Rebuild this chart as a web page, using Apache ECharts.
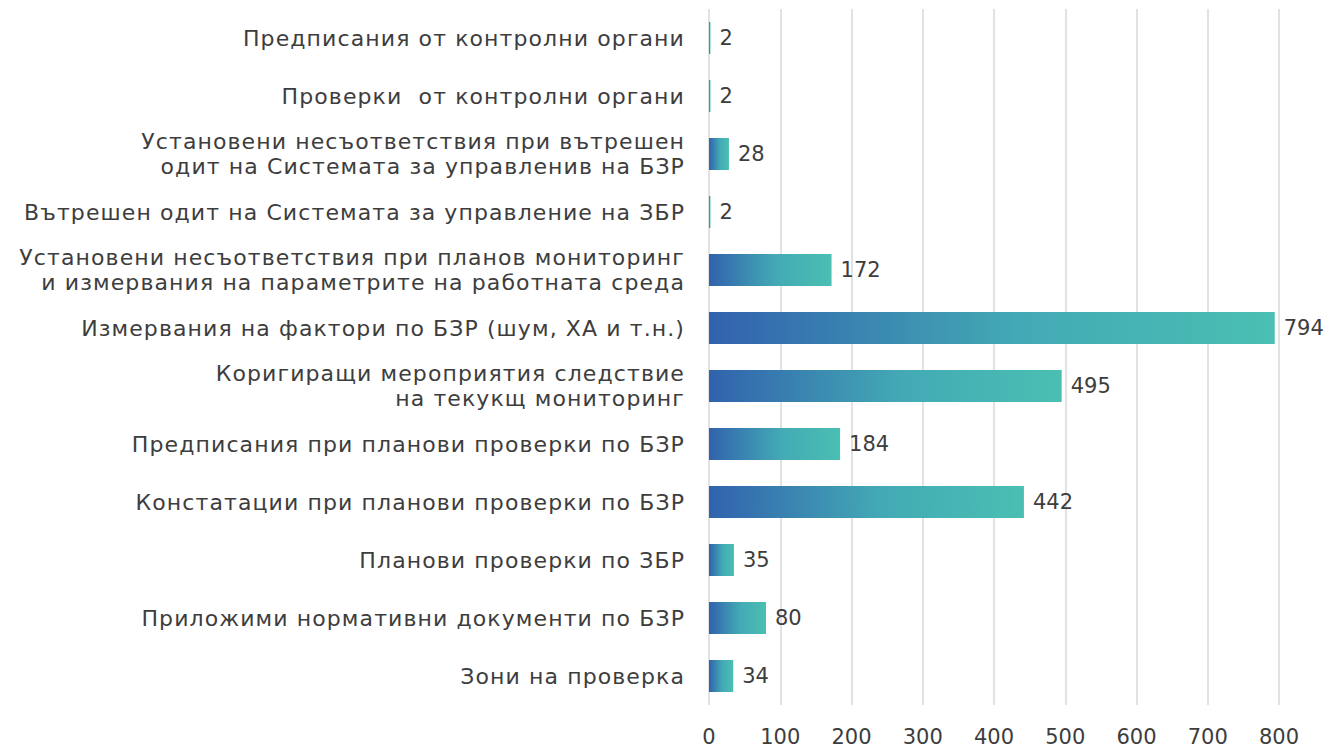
<!DOCTYPE html>
<html>
<head>
<meta charset="utf-8">
<script src="https://cdn.jsdelivr.net/npm/echarts@6/dist/echarts.min.js"></script>
<style>
html,body{margin:0;padding:0;background:#fff;}
#chart{width:1336px;height:749px;}
#chart svg text[style*="Verdana"]{letter-spacing:1.1px;}
</style>
</head>
<body>
<div id="chart"></div>
<script>
const categories = [
  "Предписания от контролни органи",
  "Проверки  от контролни органи",
  "Установени несъответствия при вътрешен\nодит на Системата за управленив на БЗР",
  "Вътрешен одит на Системата за управление на ЗБР",
  "Установени несъответствия при планов мониторинг\nи измервания на параметрите на работната среда",
  "Измервания на фактори по БЗР (шум, ХА и т.н.)",
  "Коригиращи мероприятия следствие\nна текукщ мониторинг",
  "Предписания при планови проверки по БЗР",
  "Констатации при планови проверки по БЗР",
  "Планови проверки по ЗБР",
  "Приложими нормативни документи по БЗР",
  "Зони на проверка"
];
const values = [2, 2, 28, 2, 172, 794, 495, 184, 442, 35, 80, 34];
const xTicks = [0, 100, 200, 300, 400, 500, 600, 700, 800];

const FONT_CAT = "'DejaVu Sans', Verdana, sans-serif";
const FONT_NUM = "'DejaVu Sans', sans-serif";
const chart = echarts.init(document.getElementById('chart'), null, {renderer: 'svg'});
chart.setOption({
  animation: false,
  backgroundColor: '#ffffff',
  grid: {left: 709, right: 57, top: 9, bottom: 44, containLabel: false},
  xAxis: {
    type: 'value',
    min: xTicks[0],
    max: xTicks[xTicks.length - 1],
    interval: xTicks[1] - xTicks[0],
    axisLine: {show: false},
    axisTick: {show: false},
    splitLine: {show: true, lineStyle: {color: '#d9d9d9', width: 1.5}},
    axisLabel: {color: '#3d3d3d', fontSize: 21, fontFamily: FONT_NUM, margin: 21}
  },
  yAxis: {
    type: 'category',
    inverse: true,
    data: categories,
    axisLine: {show: false},
    axisTick: {show: false},
    axisLabel: {color: '#3d3d3d', fontSize: 22, fontFamily: FONT_CAT, margin: 24, lineHeight: 25, align: 'right'}
  },
  series: [{
    type: 'bar',
    data: values,
    barWidth: 32,
    itemStyle: {
      color: new echarts.graphic.LinearGradient(0, 0, 1, 0, [
        {offset: 0, color: '#3162ad'},
        {offset: 0.55, color: '#43aab5'},
        {offset: 1, color: '#4abfb2'}
      ])
    },
    label: {show: true, position: 'right', distance: 9, color: '#3d3d3d', fontSize: 21, fontFamily: FONT_NUM}
  }]
});
</script>
</body>
</html>
